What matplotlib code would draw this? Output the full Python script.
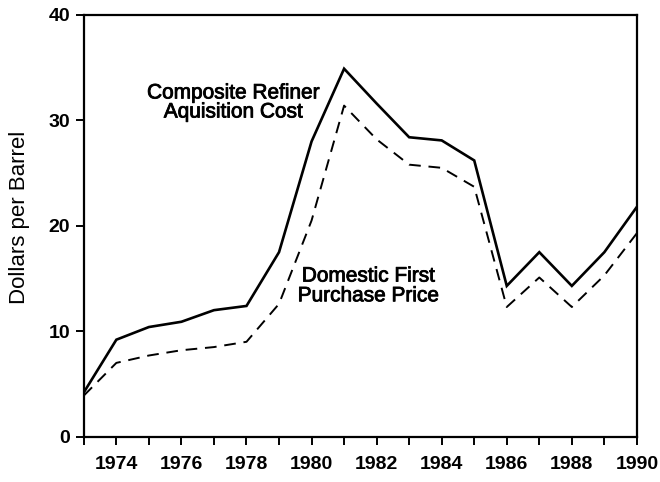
import matplotlib
matplotlib.use("Agg")
import matplotlib.pyplot as plt
import matplotlib.patheffects as pe

years = list(range(1973, 1991))
refiner_cost = [4.2, 9.2, 10.4, 10.9, 12.0, 12.4, 17.5, 28.0, 34.9, 31.6,
                28.4, 28.1, 26.2, 14.3, 17.5, 14.3, 17.5, 21.8]
first_purchase = [3.9, 7.0, 7.7, 8.2, 8.5, 9.0, 12.6, 20.5, 31.4, 28.2,
                  25.8, 25.5, 23.7, 12.3, 15.1, 12.3, 15.3, 19.3]
year_ticks = list(range(1974, 1991, 2))
value_ticks = [0, 10, 20, 30, 40]

plt.rcParams['font.family'] = ['Liberation Sans', 'DejaVu Sans']

fig = plt.figure(figsize=(6.6, 4.82), dpi=100)
ax = fig.add_axes([0.127, 0.094, 0.838, 0.875])

ax.plot(years, refiner_cost, color='black', lw=1.9, solid_joinstyle='miter')
ax.plot(years, first_purchase, color='black', lw=1.4, dashes=(6, 4))

ax.set_xlim(1973, 1990)
ax.set_ylim(0, 40)
ax.set_xticks(years, minor=True)
ax.set_xticks(year_ticks)
ax.set_xticklabels([str(y) for y in year_ticks], fontsize=14, fontweight='bold')
ax.set_yticks(value_ticks)
ax.set_yticklabels([str(v) for v in value_ticks], fontsize=14, fontweight='bold')
ax.tick_params(axis='both', which='both', direction='out', length=6, width=1.4)
ax.tick_params(axis='x', which='major', length=6, pad=8)
ax.tick_params(axis='y', pad=4)
for s in ax.spines.values():
    s.set_linewidth(1.6)

heavy = [pe.withStroke(linewidth=0.6, foreground='black')]

ax.set_ylabel('Dollars per Barrel', fontsize=16)
ax.yaxis.set_label_coords(-0.098, 0.52)

ax.text(1977.6, 31.7, 'Composite Refiner\nAquisition Cost', ha='center', va='center',
        fontsize=15, linespacing=1.0, path_effects=heavy)
ax.text(1981.75, 14.3, 'Domestic First\nPurchase Price', ha='center', va='center',
        fontsize=15, linespacing=1.05, path_effects=heavy)

fig.savefig('out.png', dpi=100, facecolor='white')
